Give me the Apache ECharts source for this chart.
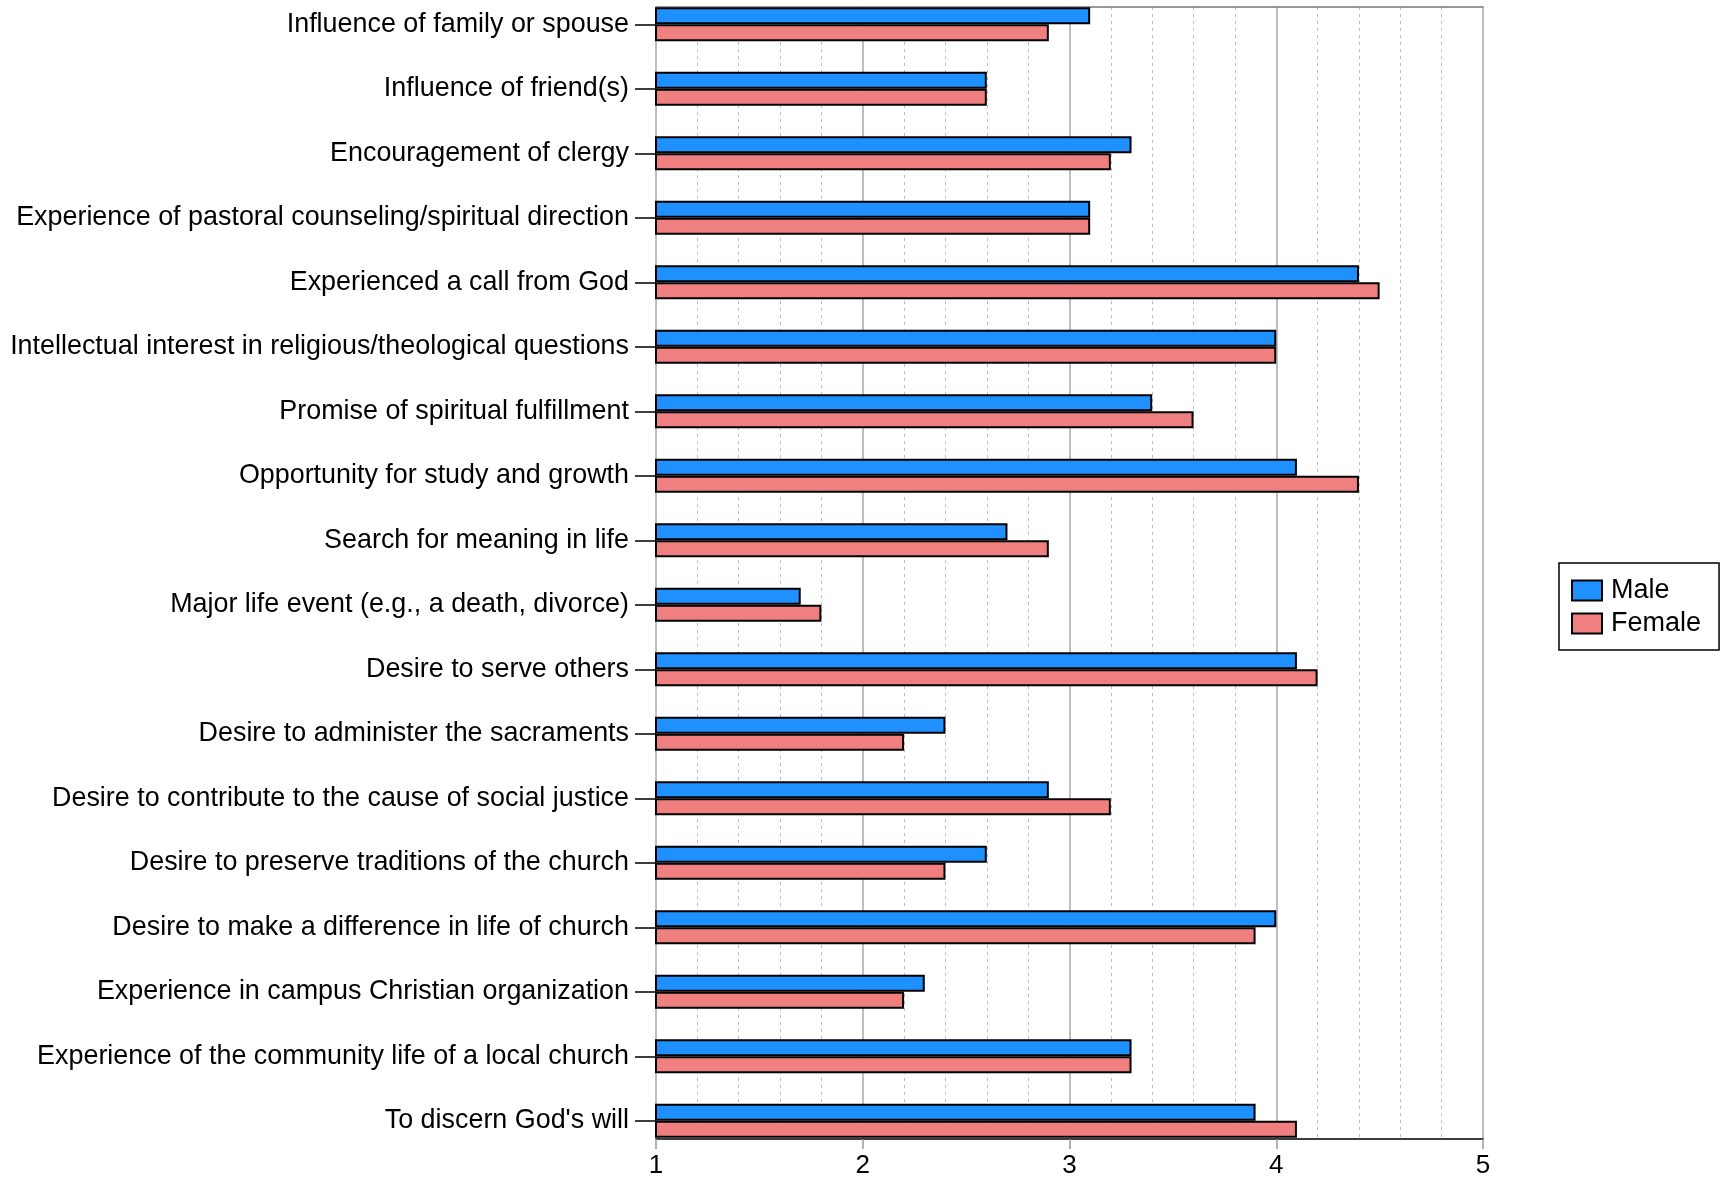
<!DOCTYPE html>
<html>
<head>
<meta charset="utf-8">
<script src="https://cdn.jsdelivr.net/npm/echarts@6/dist/echarts.min.js"></script>
<style>
html,body{margin:0;padding:0;background:#fff;overflow:hidden;}
#wrap{position:relative;width:1725px;height:1179px;overflow:hidden;}
#chart{position:absolute;left:0;top:-20px;width:1725px;height:1199px;}
</style>
</head>
<body>
<div id="wrap"><div id="chart"></div></div>
<script>
const categories = [
  "Influence of family or spouse",
  "Influence of friend(s)",
  "Encouragement of clergy",
  "Experience of pastoral counseling/spiritual direction",
  "Experienced a call from God",
  "Intellectual interest in religious/theological questions",
  "Promise of spiritual fulfillment",
  "Opportunity for study and growth",
  "Search for meaning in life",
  "Major life event (e.g., a death, divorce)",
  "Desire to serve others",
  "Desire to administer the sacraments",
  "Desire to contribute to the cause of social justice",
  "Desire to preserve traditions of the church",
  "Desire to make a difference in life of church",
  "Experience in campus Christian organization",
  "Experience of the community life of a local church",
  "To discern God's will"
];
const maleValues =   [3.1, 2.6, 3.3, 3.1, 4.4, 4.0, 3.4, 4.1, 2.7, 1.7, 4.1, 2.4, 2.9, 2.6, 4.0, 2.3, 3.3, 3.9];
const femaleValues = [2.9, 2.6, 3.2, 3.1, 4.5, 4.0, 3.6, 4.4, 2.9, 1.8, 4.2, 2.2, 3.2, 2.4, 3.9, 2.2, 3.3, 4.1];
const xTicks = [1, 2, 3, 4, 5];

const FONT = "'Liberation Sans', Arial, sans-serif";
const chart = echarts.init(document.getElementById('chart'), null, {renderer: 'canvas'});
chart.setOption({
  animation: false,
  backgroundColor: '#ffffff',
  textStyle: {fontFamily: FONT},
  grid: [
    {left: 656, right: 242, top: 12, bottom: 26, containLabel: false},
    {left: 656, right: 242, top: 27, bottom: 40, containLabel: false}
  ],
  legend: {
    orient: 'vertical',
    left: 1559, top: 583,
    padding: [14, 18, 13, 12],
    borderColor: '#000', borderWidth: 1.5,
    itemWidth: 30, itemHeight: 20, itemGap: 6,
    icon: 'rect',
    textStyle: {fontSize: 27, color: '#000', fontFamily: FONT, padding: [0, 0, 0, 4]},
    data: ['Male', 'Female']
  },
  xAxis: [
    {gridIndex: 0, type: 'value', min: xTicks[0], max: xTicks[xTicks.length - 1], interval: 1, show: false},
    {gridIndex: 1, type: 'value', min: xTicks[0], max: xTicks[xTicks.length - 1], interval: 1,
     axisLine: {show: true, lineStyle: {color: '#000', width: 1.5}},
     axisTick: {show: true, length: 10, lineStyle: {color: '#999', width: 1.5}},
     axisLabel: {fontSize: 26, color: '#000', margin: 14, fontFamily: FONT,
       formatter: v => xTicks.indexOf(v) >= 0 ? String(v) : ''},
     splitLine: {show: true, lineStyle: {color: '#a8a8a8', width: 1.5}},
     minorTick: {show: false, splitNumber: 5},
     minorSplitLine: {show: true, lineStyle: {color: '#bdbdbd', width: 1, type: [3, 4]}}
    },
    {gridIndex: 1, type: 'value', position: 'top', min: xTicks[0], max: xTicks[xTicks.length - 1], interval: 1,
     axisLine: {show: true, lineStyle: {color: '#777', width: 1.5}},
     axisTick: {show: false}, axisLabel: {show: false}, splitLine: {show: false}}
  ],
  yAxis: [
    {gridIndex: 0, type: 'category', inverse: true, data: categories, boundaryGap: true,
     axisLine: {show: false},
     axisTick: {show: true, alignWithLabel: true, length: 21, lineStyle: {color: '#000', width: 1.5}},
     axisLabel: {fontSize: 26.9, color: '#000', margin: 27, fontFamily: FONT, interval: 0},
     splitLine: {show: false}},
    {gridIndex: 1, type: 'value', min: 0, max: 1, show: false}
  ],
  series: [
    {name: 'Male', type: 'bar', xAxisIndex: 0, yAxisIndex: 0, data: maleValues,
     barWidth: 17, barGap: '0%',
     itemStyle: {color: '#1e90ff', borderColor: '#000', borderWidth: 2}},
    {name: 'Female', type: 'bar', xAxisIndex: 0, yAxisIndex: 0, data: femaleValues,
     barWidth: 17, barGap: '0%',
     itemStyle: {color: '#f08080', borderColor: '#000', borderWidth: 2}}
  ]
});
</script>
</body>
</html>
